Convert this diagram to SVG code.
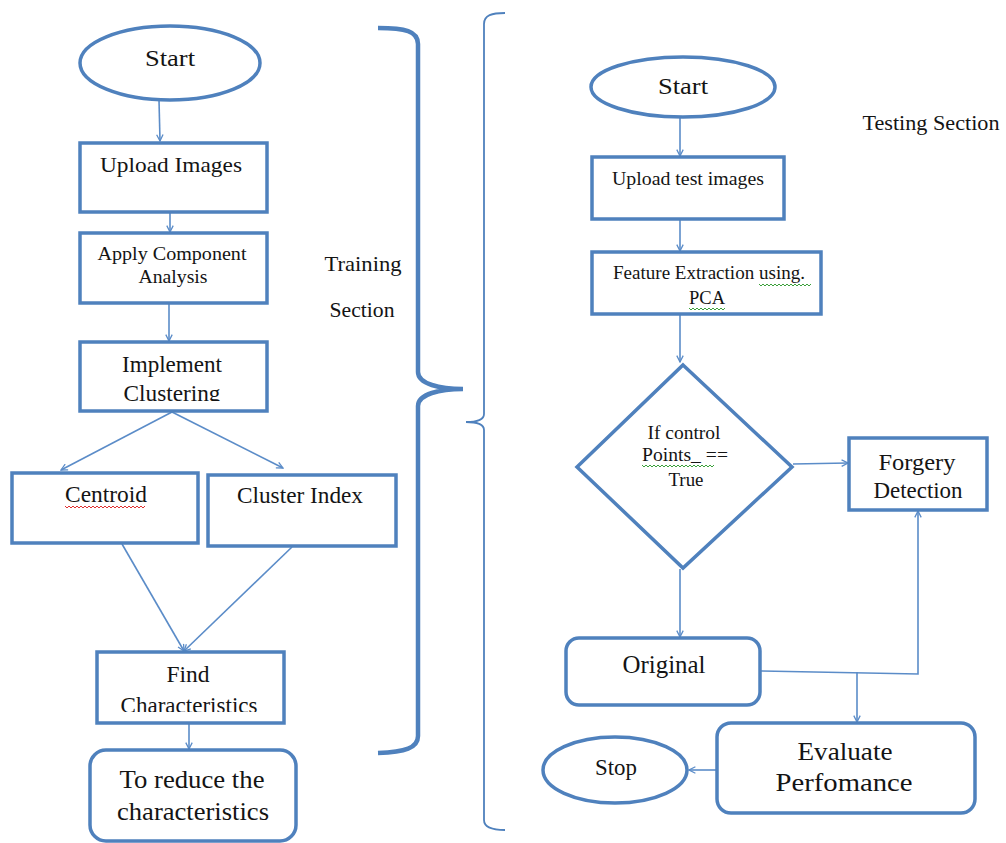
<svg xmlns="http://www.w3.org/2000/svg" width="1006" height="843" viewBox="0 0 1006 843" font-family="Liberation Serif, Tinos, Times New Roman, DejaVu Serif, Noto Serif, serif">
<style>
.box{fill:#fff;stroke:#4f81bd;stroke-width:3.5}
.con{fill:none;stroke:#5b8cc8;stroke-width:1.6}
.brace{fill:none;stroke:#4f81bd}
.t{fill:#141414;text-anchor:middle}
.sq{fill:none;stroke-width:1}
</style>
<defs>
<marker id="ah" viewBox="0 0 10 10" refX="9" refY="5" markerWidth="8" markerHeight="8" orient="auto" markerUnits="userSpaceOnUse">
<path d="M1,1 L9,5 L1,9" fill="none" stroke="#5b8cc8" stroke-width="1.6"/>
</marker>
<clipPath id="c1"><rect x="80" y="340" width="190" height="61"/></clipPath>
<clipPath id="c2"><rect x="97" y="650" width="190" height="62"/></clipPath>
</defs>
<rect width="1006" height="843" fill="#fff"/>

<g id="braces">
<path class="brace" stroke-width="4.5" d="M378,28 C405,28 418,31 418,44 L418,372 C418,384 440,389 463,389 C440,389 418,394 418,406 L418,736 C418,748 405,752 378,753"/>
<path class="brace" stroke-width="1.8" d="M505,13 C492,13 484,15 484,24 L484,414 C484,419 478,422 466,422 C478,422 484,425 484,430 L484,820 C484,827 492,830 505,830"/>
</g>

<g id="connectors">
<line class="con" x1="159" y1="100" x2="160" y2="141" marker-end="url(#ah)"/>
<line class="con" x1="170" y1="213" x2="170" y2="232" marker-end="url(#ah)"/>
<line class="con" x1="169" y1="304" x2="169" y2="341" marker-end="url(#ah)"/>
<line class="con" x1="172" y1="412" x2="61" y2="470" marker-end="url(#ah)"/>
<line class="con" x1="172" y1="412" x2="283" y2="468" marker-end="url(#ah)"/>
<line class="con" x1="122" y1="544" x2="184" y2="651" marker-end="url(#ah)"/>
<line class="con" x1="292" y1="547" x2="184" y2="651" marker-end="url(#ah)"/>
<line class="con" x1="189" y1="724" x2="189" y2="749" marker-end="url(#ah)"/>
<line class="con" x1="680" y1="117" x2="680" y2="156" marker-end="url(#ah)"/>
<line class="con" x1="680" y1="220" x2="680" y2="251" marker-end="url(#ah)"/>
<line class="con" x1="680" y1="315" x2="680" y2="362" marker-end="url(#ah)"/>
<line class="con" x1="793" y1="464" x2="848" y2="463" marker-end="url(#ah)"/>
<line class="con" x1="680" y1="569" x2="680" y2="637" marker-end="url(#ah)"/>
<polyline class="con" points="761,671 918,674 918,511" marker-end="url(#ah)"/>
<line class="con" x1="857" y1="672" x2="857" y2="722" marker-end="url(#ah)"/>
<line class="con" x1="717" y1="770" x2="689" y2="770" marker-end="url(#ah)"/>
</g>

<g id="n-start1">
<ellipse class="box" cx="170" cy="63" rx="90" ry="37"/>
<text class="t" x="170" y="66" font-size="24" textLength="50" lengthAdjust="spacingAndGlyphs">Start</text>
</g>
<g id="n-upload">
<rect class="box" x="80" y="143" width="187" height="69"/>
<text class="t" x="171" y="172" font-size="22" textLength="142" lengthAdjust="spacingAndGlyphs">Upload Images</text>
</g>
<g id="n-apply">
<rect class="box" x="80" y="233" width="187" height="70"/>
<text class="t" x="172" y="260" font-size="18" textLength="149" lengthAdjust="spacingAndGlyphs">Apply Component</text>
<text class="t" x="173" y="283" font-size="18" textLength="69" lengthAdjust="spacingAndGlyphs">Analysis</text>
</g>
<g id="n-cluster">
<rect class="box" x="80" y="342" width="187" height="69"/>
<text class="t" x="172" y="372" font-size="23" textLength="100" lengthAdjust="spacingAndGlyphs">Implement</text>
<text class="t" x="172" y="401" font-size="23" textLength="97" lengthAdjust="spacingAndGlyphs" clip-path="url(#c1)">Clustering</text>
</g>
<g id="n-centroid">
<rect class="box" x="12" y="473" width="186" height="70"/>
<text class="t" x="106" y="502" font-size="23" textLength="82" lengthAdjust="spacingAndGlyphs">Centroid</text>
<path class="sq" stroke="#e03030" d="M65,506 l2,2 l2,-2 l2,2 l2,-2 l2,2 l2,-2 l2,2 l2,-2 l2,2 l2,-2 l2,2 l2,-2 l2,2 l2,-2 l2,2 l2,-2 l2,2 l2,-2 l2,2 l2,-2 l2,2 l2,-2 l2,2 l2,-2 l2,2 l2,-2 l2,2 l2,-2 l2,2 l2,-2 l2,2 l2,-2 l2,2 l2,-2 l2,2 l2,-2 l2,2 l2,-2 l2,2 l2,-2"/>
</g>
<g id="n-clusterindex">
<rect class="box" x="208" y="475" width="188" height="71"/>
<text class="t" x="300" y="503" font-size="23" textLength="126" lengthAdjust="spacingAndGlyphs">Cluster Index</text>
</g>
<g id="n-find">
<rect class="box" x="97" y="652" width="187" height="71"/>
<text class="t" x="188" y="682" font-size="23" textLength="43" lengthAdjust="spacingAndGlyphs">Find</text>
<text class="t" x="189" y="713" font-size="23" textLength="137" lengthAdjust="spacingAndGlyphs" clip-path="url(#c2)">Characteristics</text>
</g>
<g id="n-reduce">
<rect class="box" x="90" y="750" width="206" height="91" rx="16"/>
<text class="t" x="192" y="788" font-size="25" textLength="145" lengthAdjust="spacingAndGlyphs">To reduce the</text>
<text class="t" x="193" y="820" font-size="25" textLength="152" lengthAdjust="spacingAndGlyphs">characteristics</text>
</g>

<g id="labels">
<text class="t" x="363" y="271" font-size="21" textLength="77" lengthAdjust="spacingAndGlyphs">Training</text>
<text class="t" x="362" y="317" font-size="21" textLength="65" lengthAdjust="spacingAndGlyphs">Section</text>
<text class="t" x="931" y="130" font-size="20" textLength="137" lengthAdjust="spacingAndGlyphs">Testing Section</text>
</g>

<g id="n-start2">
<ellipse class="box" cx="683" cy="87" rx="92" ry="30"/>
<text class="t" x="683" y="94" font-size="24" textLength="50" lengthAdjust="spacingAndGlyphs">Start</text>
</g>
<g id="n-uploadtest">
<rect class="box" x="592" y="157" width="192" height="62"/>
<text class="t" x="688" y="185" font-size="18" textLength="152" lengthAdjust="spacingAndGlyphs">Upload test images</text>
</g>
<g id="n-feature">
<rect class="box" x="592" y="252" width="229" height="62"/>
<text class="t" x="709" y="279" font-size="18" textLength="192" lengthAdjust="spacingAndGlyphs">Feature Extraction using.</text>
<text class="t" x="707" y="304" font-size="18" textLength="36" lengthAdjust="spacingAndGlyphs">PCA</text>
<path class="sq" stroke="#3aa03a" d="M759,284 l2,2 l2,-2 l2,2 l2,-2 l2,2 l2,-2 l2,2 l2,-2 l2,2 l2,-2 l2,2 l2,-2 l2,2 l2,-2 l2,2 l2,-2 l2,2 l2,-2 l2,2 l2,-2 l2,2 l2,-2 l2,2 l2,-2 l2,2 l2,-2"/>
<path class="sq" stroke="#3aa03a" d="M689,308 l2,2 l2,-2 l2,2 l2,-2 l2,2 l2,-2 l2,2 l2,-2 l2,2 l2,-2 l2,2 l2,-2 l2,2 l2,-2 l2,2 l2,-2 l2,2 l2,-2"/>
</g>
<g id="n-decision">
<polygon class="box" points="683,365 792,467 683,568 577,467"/>
<text class="t" x="684" y="439" font-size="18" textLength="73" lengthAdjust="spacingAndGlyphs">If control</text>
<text class="t" x="685" y="461" font-size="18" textLength="86" lengthAdjust="spacingAndGlyphs">Points_ ==</text>
<text class="t" x="686" y="486" font-size="18" textLength="35" lengthAdjust="spacingAndGlyphs">True</text>
<path class="sq" stroke="#3aa03a" d="M642,465 l2,2 l2,-2 l2,2 l2,-2 l2,2 l2,-2 l2,2 l2,-2 l2,2 l2,-2 l2,2 l2,-2 l2,2 l2,-2 l2,2 l2,-2 l2,2 l2,-2 l2,2 l2,-2 l2,2 l2,-2 l2,2 l2,-2 l2,2 l2,-2 l2,2 l2,-2 l2,2 l2,-2 l2,2 l2,-2 l2,2 l2,-2 l2,2 l2,-2"/>
</g>
<g id="n-forgery">
<rect class="box" x="849" y="438" width="138" height="72"/>
<text class="t" x="917" y="470" font-size="24" textLength="77" lengthAdjust="spacingAndGlyphs">Forgery</text>
<text class="t" x="918" y="498" font-size="24" textLength="89" lengthAdjust="spacingAndGlyphs">Detection</text>
</g>
<g id="n-original">
<rect class="box" x="566" y="638" width="194" height="67" rx="13"/>
<text class="t" x="664" y="673" font-size="25" textLength="83" lengthAdjust="spacingAndGlyphs">Original</text>
</g>
<g id="n-evaluate">
<rect class="box" x="717" y="723" width="258" height="90" rx="14"/>
<text class="t" x="845" y="760" font-size="25" textLength="95" lengthAdjust="spacingAndGlyphs">Evaluate</text>
<text class="t" x="844" y="791" font-size="25" textLength="137" lengthAdjust="spacingAndGlyphs">Perfomance</text>
</g>
<g id="n-stop">
<ellipse class="box" cx="615" cy="770" rx="72" ry="33"/>
<text class="t" x="616" y="775" font-size="23" textLength="42" lengthAdjust="spacingAndGlyphs">Stop</text>
</g>
</svg>
